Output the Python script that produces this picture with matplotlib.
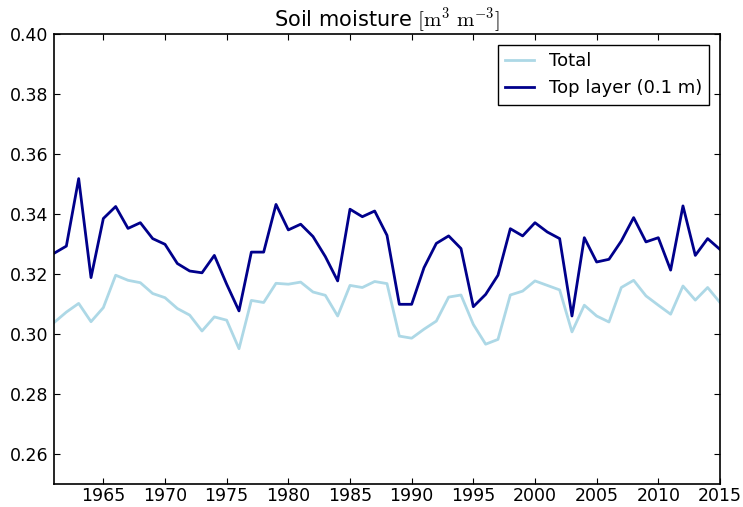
import numpy as np
import matplotlib
matplotlib.use("Agg")
import matplotlib.pyplot as plt

plt.rcParams['mathtext.fontset'] = 'cm'

years = np.arange(1961, 2016)

# total column soil moisture
total = [0.3039, 0.3074, 0.3103, 0.3042, 0.3089, 0.3197, 0.3180, 0.3172, 0.3136, 0.3122,
         0.3086, 0.3064, 0.3011, 0.3058, 0.3047, 0.2952, 0.3113, 0.3106, 0.3170, 0.3167,
         0.3174, 0.3141, 0.3130, 0.3061, 0.3163, 0.3156, 0.3176, 0.3169, 0.2994, 0.2987,
         0.3017, 0.3044, 0.3124, 0.3131, 0.3033, 0.2967, 0.2983, 0.3131, 0.3144, 0.3178,
         0.3163, 0.3148, 0.3008, 0.3097, 0.3061, 0.3041, 0.3156, 0.3180, 0.3128, 0.3097,
         0.3067, 0.3161, 0.3114, 0.3156, 0.3106]

# top layer (0.1 m)
top = [0.3270, 0.3294, 0.3519, 0.3189, 0.3386, 0.3426, 0.3353, 0.3372, 0.3319, 0.3300,
       0.3236, 0.3211, 0.3205, 0.3263, 0.3167, 0.3078, 0.3274, 0.3274, 0.3433, 0.3348,
       0.3367, 0.3326, 0.3259, 0.3178, 0.3417, 0.3392, 0.3411, 0.3330, 0.3100, 0.3100,
       0.3222, 0.3303, 0.3328, 0.3286, 0.3092, 0.3133, 0.3197, 0.3352, 0.3328, 0.3372,
       0.3341, 0.3319, 0.3061, 0.3322, 0.3241, 0.3250, 0.3311, 0.3389, 0.3308, 0.3322,
       0.3214, 0.3428, 0.3263, 0.3319, 0.3283]

fig = plt.figure(figsize=(7.43, 5.07), dpi=100)
ax = fig.add_axes([0.0727, 0.0448, 0.8963, 0.8875])

ax.plot(years, total, color='lightblue', lw=2, label='Total')
ax.plot(years, top, color='darkblue', lw=2, label='Top layer (0.1 m)')

ax.set_xlim(1961, 2015)
ax.set_ylim(0.25, 0.40)
ax.set_xticks(np.arange(1965, 2016, 5))
ax.set_yticks(np.arange(0.26, 0.401, 0.02))
ax.tick_params(direction='in', top=True, right=True, length=4, labelsize=12.5)
ax.tick_params(axis='x', pad=2)
ax.tick_params(axis='y', pad=4)
for s in ax.spines.values():
    s.set_linewidth(1.2)

ax.set_title(r'Soil moisture $[\mathrm{m^3\ m^{-3}}]$', fontsize=15, pad=5)
leg = ax.legend(loc='upper right', fontsize=13, fancybox=False, framealpha=1,
                handlelength=1.6, borderaxespad=0.6)
leg.get_frame().set_edgecolor('black')

fig.savefig('out.png', dpi=100)
